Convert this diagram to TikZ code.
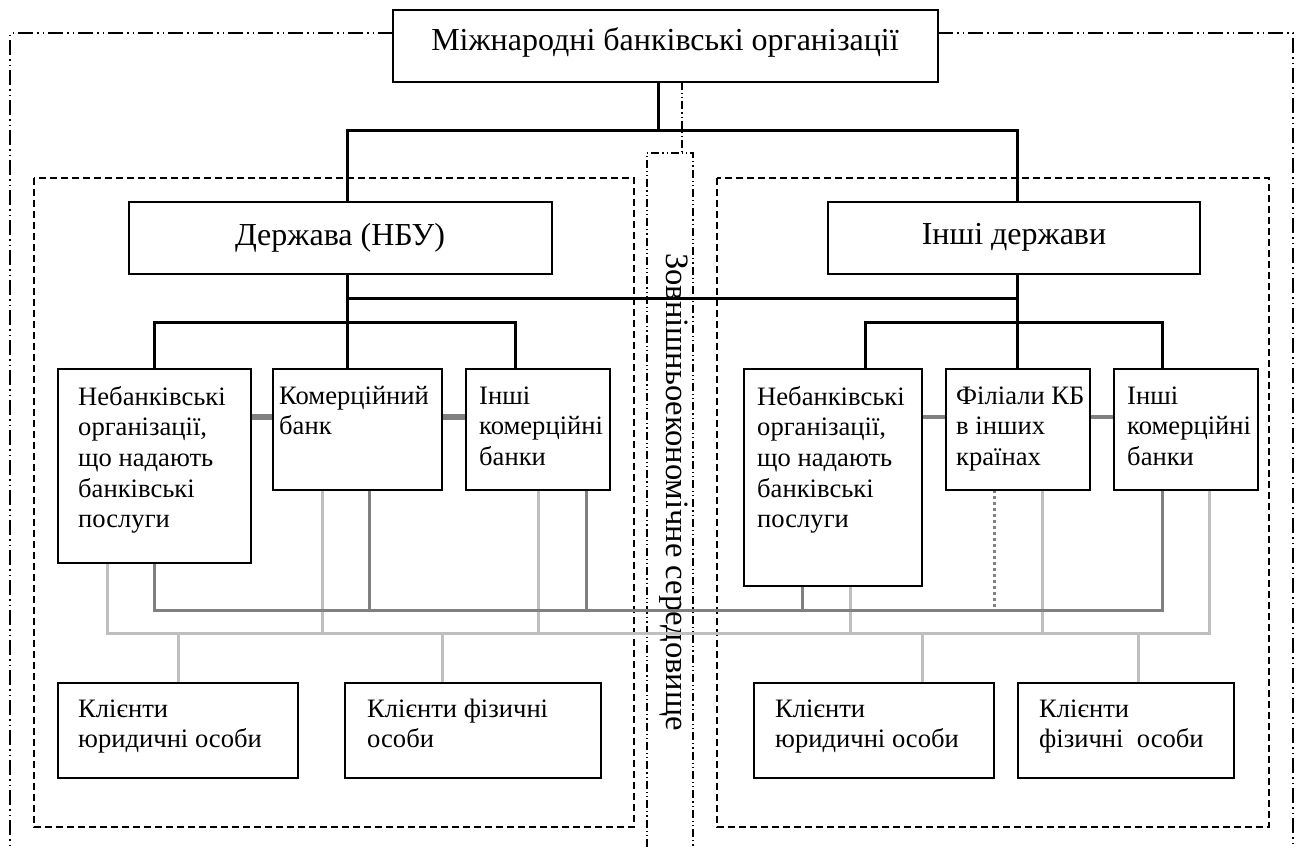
\documentclass[tikz,border=0pt]{standalone}
\usepackage{fontspec}
\setmainfont{Liberation Serif}
\usetikzlibrary{calc}
\newcommand{\stack}[1]{\begin{tabular}[t]{@{}l@{}}#1\end{tabular}}
\begin{document}
\begin{tikzpicture}[x=1pt,y=-1pt,
  box/.style={draw, line width=1.6pt, fill=white, inner sep=0pt, outer sep=0pt, anchor=north west},
  txt/.style={inner sep=0pt, anchor=base west, font=\fontsize{26.6}{30.7}\selectfont},
  big/.style={inner sep=0pt, anchor=base, font=\fontsize{32}{38}\selectfont},
  trunk/.style={line width=3pt},
  link/.style={line width=#1, black!50},
  dkbus/.style={line width=3pt, black!50},
  ltbus/.style={line width=3pt, black!25},
  frame/.style={line width=1.3pt, dash pattern=on 15pt off 4pt on 1.5pt off 4pt on 1.5pt off 4pt},
  inframe/.style={line width=1.2pt, dash pattern=on 8pt off 3pt on 1.2pt off 3pt on 1.2pt off 3pt},
  zone/.style={line width=1.4pt, dash pattern=on 7pt off 4pt},
]
\useasboundingbox (0,0) rectangle (1304,847);

% ---- boxes (placed first so that connectors can refer to them) ----
\path
  node[box, minimum width=545, minimum height=72] (top)   at (393,10)  {}
  node[box, minimum width=423, minimum height=72] (derj)  at (129,202) {}
  node[box, minimum width=372, minimum height=72] (inshi) at (828,202) {}
  node[box, minimum width=193, minimum height=194] (nb1)  at (58,369)  {}
  node[box, minimum width=169, minimum height=121] (kb1)  at (273,369) {}
  node[box, minimum width=144, minimum height=121] (ik1)  at (466,369) {}
  node[box, minimum width=178, minimum height=217] (nb2)  at (744,369) {}
  node[box, minimum width=144, minimum height=121] (fil)  at (946,369) {}
  node[box, minimum width=144, minimum height=121] (ik2)  at (1114,369) {}
  node[box, minimum width=240, minimum height=95] (cl1)   at (58,683)  {}
  node[box, minimum width=256, minimum height=95] (cl2)   at (345,683) {}
  node[box, minimum width=240, minimum height=95] (cl3)   at (754,683) {}
  node[box, minimum width=216, minimum height=95] (cl4)   at (1018,683) {};

% ---- outer environment frame ----
\coordinate (fTL) at (10,33);
\coordinate (fTR) at (1293,33);
\coordinate (fBL) at (10,847);
\coordinate (fBR) at (1293,847);
\draw[frame] (top.west |- fTL) -- (fTL) -- (fBL);
\draw[frame] (top.east |- fTR) -- (fTR) -- (fBR);

% ---- national zones ----
\draw[zone] (34,178) rectangle (634,827);
\draw[zone] (717,178) rectangle (1269,827);

% ---- external environment strip ----
\coordinate (eJ)  at (682,153);
\coordinate (eTL) at (647,153);
\coordinate (eTR) at (693,153);
\coordinate (eBL) at (647,847);
\coordinate (eBR) at (693,847);
\draw[inframe] (top.south -| eJ) -- (eJ);
\draw[inframe] (eBL) -- (eTL) -- (eTR) -- (eBR);
\node[rotate=-90, inner sep=0pt, anchor=base, font=\fontsize{32.6}{38}\selectfont] (env) at (666,492)
  {Зовнішньоекономічне середовище};

% ---- subordination lines ----
\coordinate (t1) at (658,130);
\coordinate (bL) at (347,130);
\coordinate (bR) at (1017,130);
\coordinate (mL) at (347,298);
\coordinate (mR) at (1017,298);
\coordinate (sL) at (515,322);
\coordinate (sR1) at (865,322);
\coordinate (sR3) at (1162,322);
\draw[trunk] (top.south -| t1) -- (t1);
\draw[trunk] (derj.north -| bL) -- (bL) -- (bR) -- (inshi.north -| bR);
\draw[trunk] (derj.south -| bL) -- (kb1.north -| bL);
\draw[trunk] (inshi.south -| bR) -- (fil.north -| bR);
\draw[trunk] (mL) -- (mR);
\draw[trunk] (nb1.north) |- (sL) -- (ik1.north -| sL);
\draw[trunk] (nb2.north -| sR1) -- (sR1) -- (sR3) -- (ik2.north -| sR3);

% ---- links between neighbouring institutions ----
\coordinate (h) at (0,417);
\draw[link=5.5pt] (nb1.east |- h) -- (kb1.west |- h);
\draw[link=5.5pt] (kb1.east |- h) -- (ik1.west |- h);
\draw[link=3.5pt] (nb2.east |- h) -- (fil.west |- h);
\draw[link=3.5pt] (fil.east |- h) -- (ik2.west |- h);

% ---- service lines to clients (light) ----
\coordinate (l1) at (107,633);
\coordinate (l2) at (322,633);
\coordinate (l3) at (538,633);
\coordinate (l4) at (850,633);
\coordinate (l5) at (1042,633);
\coordinate (l6) at (1209,633);
\coordinate (c1) at (178,633);
\coordinate (c2) at (442,633);
\coordinate (c3) at (922,633);
\coordinate (c4) at (1138,633);
\draw[ltbus] (nb1.south -| l1) -- (l1) -- (l6) -- (ik2.south -| l6);
\draw[ltbus] (kb1.south -| l2) -- (l2);
\draw[ltbus] (ik1.south -| l3) -- (l3);
\draw[ltbus] (nb2.south -| l4) -- (l4);
\draw[ltbus] (fil.south -| l5) -- (l5);
\draw[ltbus] (c1) -- (cl1.north -| c1);
\draw[ltbus] (c2) -- (cl2.north -| c2);
\draw[ltbus] (c3) -- (cl3.north -| c3);
\draw[ltbus] (c4) -- (cl4.north -| c4);

% ---- interbank lines (dark) ----
\coordinate (d1) at (154,610);
\coordinate (d2) at (369,610);
\coordinate (d3) at (586,610);
\coordinate (d4) at (802,610);
\coordinate (d5) at (994,610);
\coordinate (d6) at (1162,610);
\draw[dkbus] (nb1.south -| d1) -- (d1) -- (d6) -- (ik2.south -| d6);
\draw[dkbus] (kb1.south -| d2) -- (d2);
\draw[dkbus] (ik1.south -| d3) -- (d3);
\draw[dkbus] (nb2.south -| d4) -- (d4);
\draw[dkbus, dash pattern=on 3pt off 3pt] (fil.south -| d5) -- (d5);

% ---- box outlines redrawn on top of the lines ----
\foreach \b in {top,derj,inshi,nb1,kb1,ik1,nb2,fil,ik2,cl1,cl2,cl3,cl4}
  \draw[line width=1.6pt, fill=white] (\b.north west) rectangle (\b.south east);

% ---- labels ----
\node[big] (tTop)   at (665,50)  {Міжнародні банківські організації};
\node[big] (tDerj)  at (340,245) {Держава (НБУ)};
\node[big] (tInshi) at (1014,244) {Інші держави};

\node[txt] (tNb1) at (78,405)  {\stack{Небанківські\\організації,\\що надають\\банківські\\послуги}};
\node[txt] (tKb1) at (279,404) {\stack{Комерційний\\банк}};
\node[txt] (tIk1) at (479,404) {\stack{Інші\\комерційні\\банки}};
\node[txt] (tNb2) at (757,405) {\stack{Небанківські\\організації,\\що надають\\банківські\\послуги}};
\node[txt] (tFil) at (956,404) {\stack{Філіали КБ\\в інших\\країнах}};
\node[txt] (tIk2) at (1127,404) {\stack{Інші\\комерційні\\банки}};
\node[txt] (tCl1) at (78,717)  {\stack{Клієнти\\юридичні особи}};
\node[txt] (tCl2) at (367,717) {\stack{Клієнти фізичні\\особи}};
\node[txt] (tCl3) at (775,717) {\stack{Клієнти\\юридичні особи}};
\node[txt] (tCl4) at (1039,717) {\stack{Клієнти\\фізичні~~особи}};
\end{tikzpicture}
\end{document}
